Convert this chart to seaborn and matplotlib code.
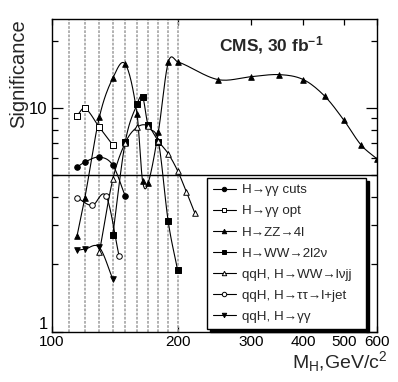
import numpy as np
import pandas as pd
import matplotlib
matplotlib.use("Agg")
import matplotlib.pyplot as plt
import seaborn as sns
from matplotlib.lines import Line2D
from matplotlib.ticker import FixedLocator, FixedFormatter, NullFormatter

# ---------------- data ----------------
mass_gg_cuts = [115, 120, 130, 140, 150]
sig_gg_cuts = [5.44, 5.73, 6.03, 5.55, 4.03]

mass_gg_opt = [115, 120, 130, 140]
sig_gg_opt = [9.25, 9.98, 8.2, 6.83]

mass_zz = [115, 120, 130, 140, 150, 160, 165, 170, 180, 190, 200,
           250, 300, 350, 400, 450, 500, 550, 600]
sig_zz = [2.69, 3.96, 9.1, 13.6, 15.7, 9.4, 4.7, 4.6, 7.85, 16.0, 16.1,
          13.4, 13.8, 14.1, 13.4, 11.3, 8.83, 6.83, 5.93]

mass_ww = [140, 150, 160, 165, 170, 180, 190, 200]
sig_ww = [2.71, 7.07, 10.4, 11.2, 8.4, 7.05, 3.11, 1.89]

mass_lvjj = [130, 140, 150, 160, 170, 180, 190, 200, 210, 220]
sig_lvjj = [2.26, 4.8, 7.0, 8.2, 8.3, 7.1, 6.25, 5.25, 4.22, 3.39]

mass_tautau = [115, 125, 135, 145]
sig_tautau = [3.97, 3.67, 4.03, 2.17]

mass_qqh_gg = [115, 120, 130, 140]
sig_qqh_gg = [2.31, 2.34, 2.38, 1.72]

labels = ["H\u2192\u03b3\u03b3 cuts", "H\u2192\u03b3\u03b3 opt", "H\u2192ZZ\u21924l",
          "H\u2192WW\u21922l2\u03bd", "qqH, H\u2192WW\u2192l\u03bdjj",
          "qqH, H\u2192\u03c4\u03c4\u2192l+jet", "qqH, H\u2192\u03b3\u03b3"]

x_ticks = [100, 200, 300, 400, 500, 600]
x_ticklabels = ["100", "200", "300", "400", "500", "600"]
grid_masses = [110, 120, 130, 140, 150, 160, 170, 180, 190, 200]
discovery_level = 5

# ---------------- style ----------------
sns.set_style("ticks")
plt.rcParams["font.family"] = ["Liberation Sans", "DejaVu Sans"]
plt.rcParams["mathtext.fontset"] = "custom"
plt.rcParams["mathtext.rm"] = "Liberation Sans"
plt.rcParams["mathtext.it"] = "Liberation Sans:italic"
plt.rcParams["mathtext.bf"] = "Liberation Sans:bold"

fig = plt.figure(figsize=(3.98, 3.82), dpi=100)
ax = fig.add_axes([0.130, 0.1317, 0.817, 0.8186])
ax.set_xscale("log")
ax.set_yscale("log")
ax.set_xlim(100, 600)
ax.set_ylim(1, 25)


def smooth(xs, ys, n=16):
    """Cubic Hermite curve through the points, computed in log-log space (drawing only)."""
    lx = np.log10(np.asarray(xs, float))
    ly = np.log10(np.asarray(ys, float))
    k = len(lx)
    m = np.zeros(k)
    for i in range(k):
        if i == 0:
            m[i] = (ly[1] - ly[0]) / (lx[1] - lx[0])
        elif i == k - 1:
            m[i] = (ly[-1] - ly[-2]) / (lx[-1] - lx[-2])
        else:
            m[i] = (ly[i + 1] - ly[i - 1]) / (lx[i + 1] - lx[i - 1])
    outx, outy = [], []
    for i in range(k - 1):
        h = lx[i + 1] - lx[i]
        t = np.linspace(0, 1, n, endpoint=(i == k - 2))
        h00 = 2 * t**3 - 3 * t**2 + 1
        h10 = t**3 - 2 * t**2 + t
        h01 = -2 * t**3 + 3 * t**2
        h11 = t**3 - t**2
        outx.append(lx[i] + t * h)
        outy.append(h00 * ly[i] + h10 * h * m[i] + h01 * ly[i + 1] + h11 * h * m[i + 1])
    return 10 ** np.concatenate(outx), 10 ** np.concatenate(outy)


# vertical grid lines and discovery line
for gm in grid_masses:
    ax.axvline(gm, color="#ababab", lw=1.3, ls=(0, (1.5, 0.8)), zorder=1)
ax.axhline(discovery_level, color="black", lw=1.0, zorder=2)

series = [
    (mass_gg_cuts, sig_gg_cuts, "o", "black"),
    (mass_gg_opt, sig_gg_opt, "s", "white"),
    (mass_zz, sig_zz, "^", "black"),
    (mass_ww, sig_ww, "s", "black"),
    (mass_lvjj, sig_lvjj, "^", "white"),
    (mass_tautau, sig_tautau, "o", "white"),
    (mass_qqh_gg, sig_qqh_gg, "v", "black"),
]

handles = []
for (mx, sy, mk, fc), lab in zip(series, labels):
    cx, cy = smooth(mx, sy)
    sns.lineplot(x=cx, y=cy, ax=ax, color="black", lw=0.8, sort=False,
                 estimator=None, zorder=3)
    df = pd.DataFrame({"m": mx, "s": sy})
    sns.scatterplot(data=df, x="m", y="s", ax=ax, marker=mk, s=16,
                    color=fc, edgecolor="black", linewidth=0.7, zorder=4)
    handles.append(Line2D([], [], color="black", lw=0.8, marker=mk, ms=3.2,
                          mfc=fc, mec="black", mew=0.7))

# ticks
ax.xaxis.set_major_locator(FixedLocator(x_ticks))
ax.xaxis.set_major_formatter(FixedFormatter(x_ticklabels))
ax.xaxis.set_minor_locator(FixedLocator([]))
ax.xaxis.set_minor_formatter(NullFormatter())
ax.yaxis.set_major_locator(FixedLocator([1, 10]))
ax.yaxis.set_major_formatter(FixedFormatter(["1", "10"]))
ax.yaxis.set_minor_locator(FixedLocator([2, 3, 4, 5, 6, 7, 8, 9, 20]))
ax.yaxis.set_minor_formatter(NullFormatter())
ax.tick_params(which="both", direction="in", top=True, right=True,
               labelsize=11, width=0.9, colors="black")
ax.tick_params(axis="y", which="major", length=8, pad=3, labelsize=12)
ax.tick_params(axis="y", which="minor", length=4.5)
ax.tick_params(axis="x", which="major", length=4.5, pad=2.5)
for sp in ax.spines.values():
    sp.set_linewidth(1.0)
    sp.set_color("black")
# keep the "1" label just clear of the "100" label below it
ax.yaxis.get_major_ticks()[0].label1.set_va("bottom")

ax.set_xlabel("")
ax.set_ylabel("")
fig.text(19 / 398, 1 - 19 / 382, "Significance", rotation=90, ha="center",
         va="top", fontsize=14.5)
fig.text(387 / 398, 1 - 368 / 382, r"M$_\mathrm{H}$,GeV/c$^\mathrm{2}$",
         ha="right", va="baseline", fontsize=14)
ax.text(0.514, 0.917, r"CMS, 30 fb$^{\mathbf{-1}}$", transform=ax.transAxes,
        ha="left", va="center", fontsize=12.5, fontweight="bold")

leg = ax.legend(handles, labels, loc="upper left",
                bbox_to_anchor=(207 / 398, 1 - 330 / 382, 159 / 398, 152 / 382),
                bbox_transform=fig.transFigure, mode="expand",
                frameon=True, fancybox=False,
                edgecolor="black", framealpha=1, fontsize=9.6,
                handlelength=1.7, handletextpad=0.45, borderpad=0.45,
                labelspacing=0.66, borderaxespad=0,
                shadow={"color": "black", "alpha": 1})
leg.get_frame().set_linewidth(1.0)
leg.set_zorder(10)

fig.savefig("out.png", dpi=100)
